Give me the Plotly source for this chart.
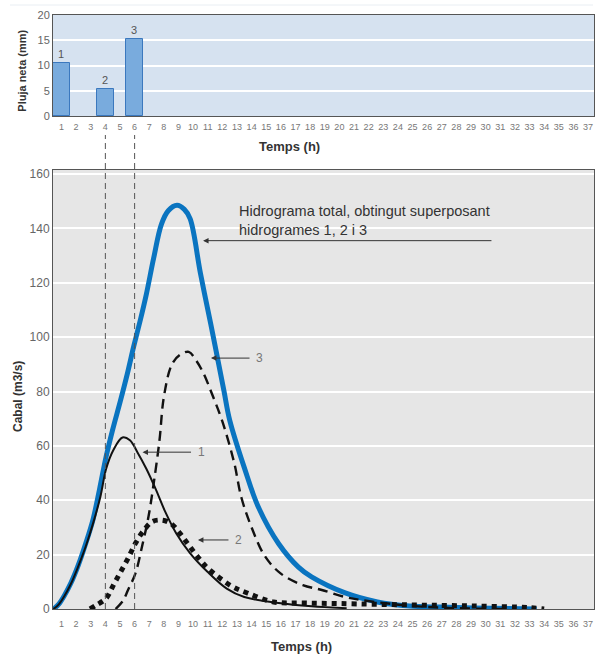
import plotly.graph_objects as go

# ---------------- data ----------------
hours = list(range(1, 38))
hour_labels = [str(h) for h in hours]

rain_hours = [1, 4, 6]
rain_mm = [10.5, 5.4, 15.2]
rain_labels = ["1", "2", "3"]

# hydrograph 1 (solid)
h1_t = [0.45, 0.8, 1.2, 1.64, 2.14, 2.65, 3.16, 3.66, 4.05, 4.55, 5.17, 5.68, 6.18, 6.81, 7.45,
        8.09, 8.85, 9.8, 10.98, 12.3, 13.5, 15.85, 18.1, 20.5]
h1_q = [0, 1.6, 4.8, 9.2, 15.6, 22.9, 31.5, 41.3, 51.5, 58.5, 63.1, 62.1, 57.8, 51.5, 44.0,
        35.8, 27.8, 20.5, 13.7, 7.5, 4.4, 2.2, 1.0, 0.3]

# hydrograph 2 (dotted)
h2_t = [2.95, 3.4, 4.05, 4.55, 5.05, 5.55, 6.05, 6.56, 7.2, 7.83, 8.47, 9.1, 9.7, 10.4,
        11.0, 12.6, 13.7, 15.5, 17.6, 20.0, 24.8, 29.2, 33.0, 34.0]
h2_q = [0, 1.5, 3.9, 8.8, 13.7, 18.6, 24.1, 28.4, 32.1, 32.7, 31.5, 27.8, 23.5, 18.6,
        15.0, 8.5, 5.9, 2.6, 2.2, 2.0, 1.5, 1.1, 0.5, 0]

# hydrograph 3 (dashed)
h3_t = [4.7, 5.2, 5.55, 6.05, 6.55, 6.95, 7.3, 7.7, 8.0, 8.55, 9.1, 9.7, 10.2, 10.7,
        11.3, 12.0, 12.8, 13.3, 14.0, 14.9, 16.0, 17.5, 18.8, 20.4, 21.5, 24.8, 28.0, 31.3]
h3_q = [0, 3, 7, 13, 24, 34, 46, 62, 78, 90, 93.5, 94.6, 91.5, 86.8,
        79, 69, 54, 41, 30, 19.5, 13, 8.8, 7, 4.4, 3.3, 1.2, 0.3, 0]

# total hydrograph (blue)
tot_t = [0.45, 0.8, 1.2, 1.64, 2.14, 2.65, 3.16, 3.6, 4.05, 4.5, 5.0, 5.5, 5.93, 6.4, 6.81,
         7.3, 7.83, 8.3, 8.9, 9.4, 9.8, 10.5, 11.2, 12.1, 12.5, 13.5, 14.46, 15.85, 17.2,
         18.1, 20.4, 22.6, 24.8, 26.9, 29.2, 33.5]
tot_q = [0, 1.7, 5, 9.5, 16, 24, 33, 44, 56, 66, 76, 86.5, 96.4, 106.5, 116,
         129, 141.5, 146.5, 148.5, 147, 143.5, 123.5, 105, 80.5, 69.5, 52, 37.5, 24, 15.4,
         11.8, 5.9, 2.6, 1.1, 0.7, 0.4, 0]

# ---------------- geometry helpers ----------------
W, H = 601, 654
def px(x):
    return x / W
def py(y):
    return 1 - y / H

FONT = "Liberation Sans, Arial, sans-serif"
XR = [0.42, 37.41]

fig = go.Figure()

fig.add_trace(go.Bar(
    x=rain_hours, y=rain_mm, text=rain_labels, textposition="outside",
    width=1.15, cliponaxis=False,
    marker=dict(color="#79abdd", line=dict(color="#3b78be", width=1)),
    textfont=dict(size=11, color="#555", family=FONT),
    xaxis="x", yaxis="y", showlegend=False, hoverinfo="skip"))

SM = 1.0
fig.add_trace(go.Scatter(x=tot_t, y=tot_q, mode="lines",
    line=dict(color="#0a74c0", width=5, shape="spline", smoothing=SM),
    xaxis="x2", yaxis="y2", showlegend=False))
fig.add_trace(go.Scatter(x=h3_t, y=h3_q, mode="lines",
    line=dict(color="#111", width=2.4, dash="10px,6px", shape="spline", smoothing=SM),
    xaxis="x2", yaxis="y2", showlegend=False))
fig.add_trace(go.Scatter(x=h2_t, y=h2_q, mode="lines",
    line=dict(color="#111", width=5, dash="dot", shape="spline", smoothing=SM),
    xaxis="x2", yaxis="y2", showlegend=False))
fig.add_trace(go.Scatter(x=h1_t, y=h1_q, mode="lines",
    line=dict(color="#111", width=2, shape="spline", smoothing=SM),
    xaxis="x2", yaxis="y2", showlegend=False))

xdom = [px(53), px(594)]
common_x = dict(domain=xdom, range=XR, tickmode="array", tickvals=hours, ticktext=hour_labels,
                showgrid=False, showline=True, mirror=True, linecolor="#555", linewidth=1,
                ticks="outside", tickcolor="rgba(0,0,0,0)", automargin=False,
                tickfont=dict(size=9, color="#777", family=FONT), zeroline=False, fixedrange=True)
common_y = dict(showgrid=True, gridcolor="white", gridwidth=1.5, showline=True, mirror=True,
                linecolor="#555", linewidth=1, ticks="", zeroline=False, automargin=False,
                tickfont=dict(color="#666", family=FONT), fixedrange=True)

fig.update_layout(
    template="none",
    width=W, height=H, margin=dict(l=0, r=0, t=0, b=0, pad=0, autoexpand=False),
    paper_bgcolor="white", plot_bgcolor="#e6e6e6",
    font=dict(family=FONT),
    xaxis=dict(common_x, anchor="y", ticklen=2),
    yaxis=dict(common_y, domain=[py(116), py(15)], range=[0, 20], dtick=5, anchor="x",
               tickfont=dict(size=11, color="#666", family=FONT)),
    xaxis2=dict(common_x, anchor="y2", ticklen=6),
    yaxis2=dict(common_y, domain=[py(609), py(170)], range=[0, 161.5], dtick=20, anchor="x2",
                tickfont=dict(size=12, color="#666", family=FONT)),
    bargap=0,
)

shapes = [
    dict(type="rect", xref="x domain", yref="y domain", x0=0, x1=1, y0=0, y1=1,
         fillcolor="#d6e2f0", line=dict(width=0), layer="below"),
    dict(type="line", xref="paper", yref="paper", x0=px(10), x1=px(593), y0=py(5), y1=py(5),
         line=dict(color="#e9eef3", width=1)),
]
for xv in [4, 6]:
    shapes.append(dict(type="line", xref="x2", yref="paper", x0=xv, x1=xv,
                       y0=py(609), y1=py(135), line=dict(color="#555", width=1, dash="6px,4px"),
                       layer="above"))
fig.update_layout(shapes=shapes)

def txt(text, x, y, size, color="#333", angle=0, xanchor="center"):
    return dict(text=text, x=px(x), y=py(y), xref="paper", yref="paper",
                xanchor=xanchor, yanchor="middle", textangle=angle, showarrow=False,
                font=dict(size=size, color=color, family=FONT))

ann = []
# axis titles
ann.append(txt("<b>Pluja neta (mm)</b>", 21.7, 71, 11, angle=-90))
ann.append(txt("<b>Cabal (m3/s)</b>", 18, 397, 12, angle=-90))
ann.append(txt("<b>Temps (h)</b>", 289, 146.5, 13))
ann.append(txt("<b>Temps (h)</b>", 301, 646.5, 13))
# explanatory text
ann.append(dict(text="Hidrograma total, obtingut superposant<br>hidrogrames 1, 2 i 3",
                x=px(237), y=py(220), xref="paper", yref="paper", xanchor="left",
                yanchor="middle", align="left", showarrow=False,
                font=dict(size=14.5, color="#333", family=FONT)))
# arrows (head x,y ; tail ax,ay)
arrows = [
    (10.68, 135.5, 30.5, 135.5),
    (11.22, 92.3, 13.96, 92.3),
    (6.54, 57.7, 9.96, 57.7),
    (10.33, 25.4, 12.52, 25.4),
]
for hx, hy, tx, ty in arrows:
    ann.append(dict(text="", x=hx, y=hy, ax=tx, ay=ty, xref="x2", yref="y2",
                    axref="x2", ayref="y2", showarrow=True, arrowhead=2, arrowsize=1.1,
                    arrowwidth=1, arrowcolor="#333", standoff=0, startstandoff=0))
for lab, lx, ly in [("3", 259, 358), ("1", 201, 452), ("2", 238, 540)]:
    ann.append(txt(lab, lx, ly, 12, color="#777"))
fig.update_layout(annotations=ann)

fig.write_html("out.html")
